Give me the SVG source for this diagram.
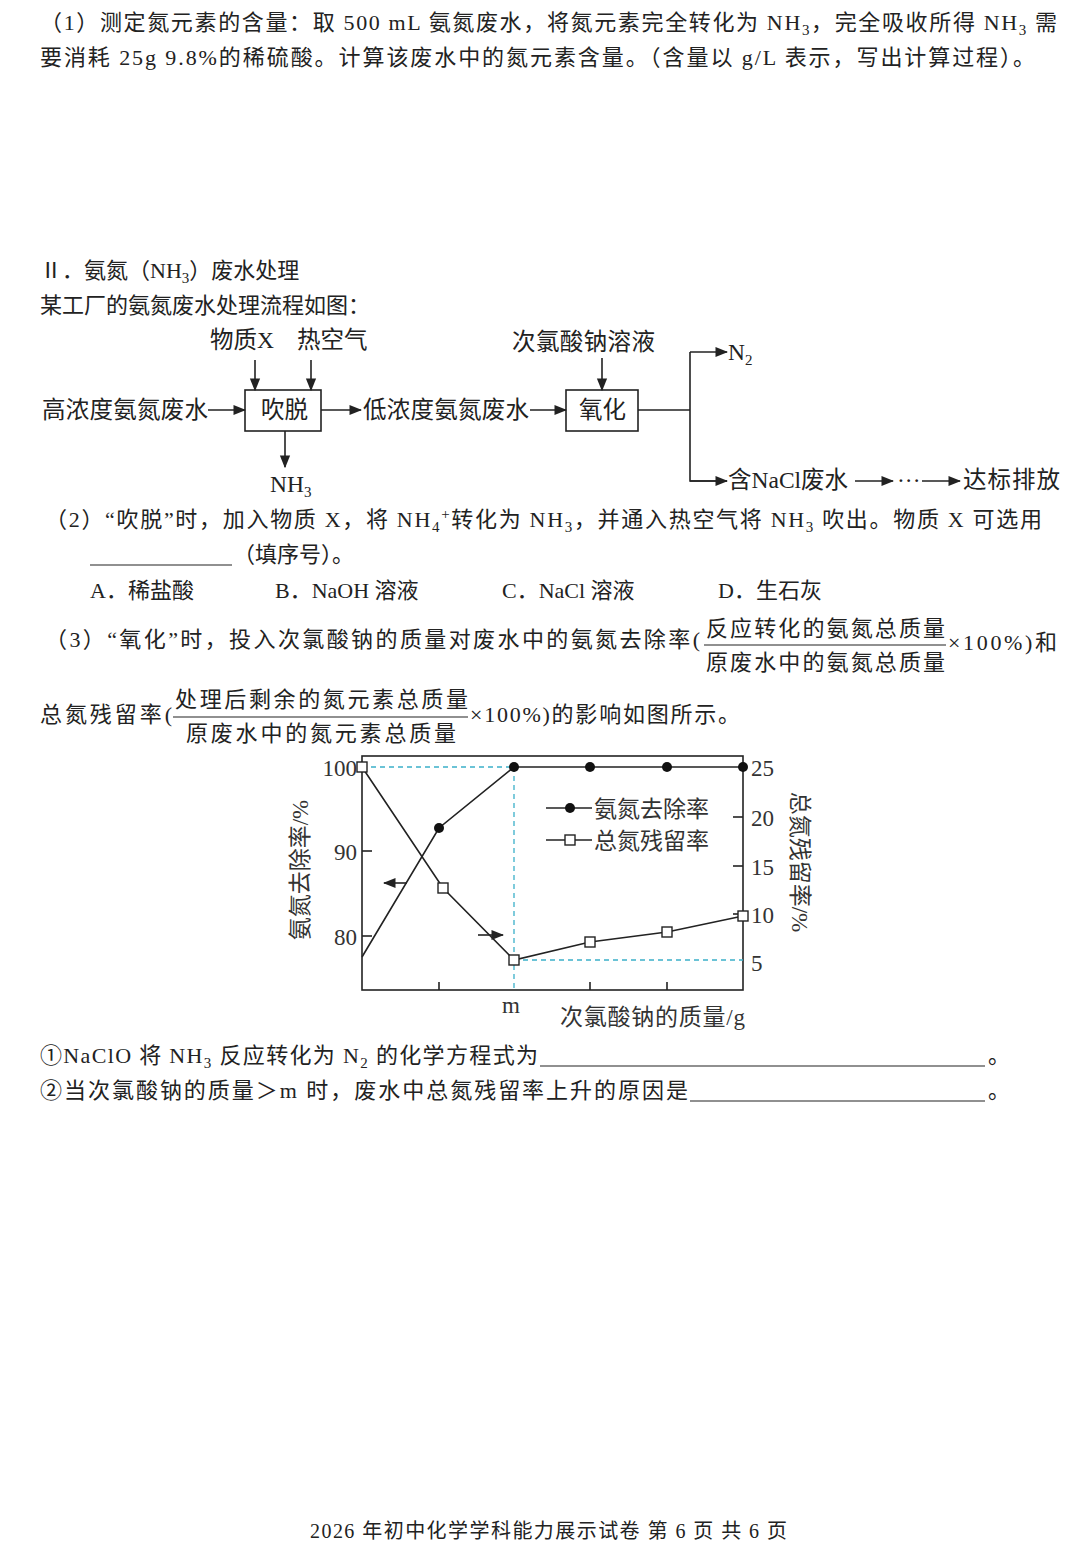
<svg xmlns="http://www.w3.org/2000/svg" width="1080" height="1544" viewBox="0 0 1080 1544">
<style>
text{font-family:"Liberation Serif","Noto Sans CJK SC",serif;font-size:22px;fill:#222}
.s{font-size:15px}
.fl{font-size:23.5px}
.ln{stroke:#222;stroke-width:1.6;fill:none}
.dash{stroke:#3bb0c9;stroke-width:1.3;stroke-dasharray:5 4;fill:none}
.ax{font-size:23px;fill:#333}
</style>
<defs>
<marker id="ah" viewBox="0 0 10 10" refX="9" refY="5" markerWidth="8" markerHeight="8" orient="auto"><path d="M0,1 L10,5 L0,9 z" fill="#222"/></marker>
</defs>
<rect width="1080" height="1544" fill="#fff"/>
<text x="40" y="30" textLength="1017" lengthAdjust="spacing">（1）测定氮元素的含量：取 500 mL 氨氮废水，将氮元素完全转化为 NH<tspan class="s" dy="5">3</tspan><tspan dy="-5">，完全吸收所得 NH</tspan><tspan class="s" dy="5">3</tspan><tspan dy="-5"> 需</tspan></text>
<text x="40" y="65" textLength="995" lengthAdjust="spacing">要消耗 25g 9.8%的稀硫酸。计算该废水中的氮元素含量。（含量以 g/L 表示，写出计算过程）。</text>
<text x="40" y="278">Ⅱ．氨氮（NH<tspan class="s" dy="5">3</tspan><tspan dy="-5">）废水处理</tspan></text>
<text x="40" y="313">某工厂的氨氮废水处理流程如图：</text>
<g id="flow-labels">
<text x="210" y="348" class="fl">物质X</text>
<text x="297" y="348" class="fl">热空气</text>
<text x="42" y="418" class="fl" textLength="166" lengthAdjust="spacing">高浓度氨氮废水</text>
<text x="363" y="418" class="fl" textLength="166" lengthAdjust="spacing">低浓度氨氮废水</text>
<text x="512" y="350" class="fl" textLength="143" lengthAdjust="spacing">次氯酸钠溶液</text>
<text x="728" y="360" class="fl">N<tspan class="s" dy="5">2</tspan></text>
<text x="728" y="488" class="fl">含NaCl废水</text>
<text x="897" y="488" class="fl">···</text>
<text x="963" y="488" class="fl" textLength="97" lengthAdjust="spacing">达标排放</text>
<text x="270" y="492" class="fl">NH<tspan class="s" dy="5">3</tspan></text>
</g>
<g id="node-chuituo"><rect x="245" y="390" width="76" height="41" class="ln"/><text x="261" y="418" class="fl">吹脱</text></g>
<g id="node-yanghua"><rect x="566" y="390" width="72" height="41" class="ln"/><text x="579" y="418" class="fl">氧化</text></g>
<g id="connectors" class="ln">
<line x1="255" y1="360" x2="255" y2="390" marker-end="url(#ah)"/>
<line x1="311" y1="360" x2="311" y2="390" marker-end="url(#ah)"/>
<line x1="208" y1="410" x2="245" y2="410" marker-end="url(#ah)"/>
<line x1="321" y1="410" x2="361" y2="410" marker-end="url(#ah)"/>
<line x1="530" y1="410" x2="566" y2="410" marker-end="url(#ah)"/>
<line x1="602" y1="358" x2="602" y2="390" marker-end="url(#ah)"/>
<line x1="285" y1="431" x2="285" y2="467" marker-end="url(#ah)"/>
<polyline points="638,410 690,410"/>
<polyline points="727,481 690,481 690,352" />
<line x1="690" y1="352" x2="727" y2="352" marker-end="url(#ah)"/>
<line x1="690" y1="481" x2="727" y2="481" marker-end="url(#ah)"/>
<line x1="855" y1="481" x2="893" y2="481" marker-end="url(#ah)"/>
<line x1="922" y1="481" x2="960" y2="481" marker-end="url(#ah)"/>
</g>
<text x="45" y="527" textLength="997" lengthAdjust="spacing">（2）“吹脱”时，加入物质 X，将 NH<tspan class="s" dy="5">4</tspan><tspan class="s" dy="-13">+</tspan><tspan dy="8">转化为 NH</tspan><tspan class="s" dy="5">3</tspan><tspan dy="-5">，并通入热空气将 NH</tspan><tspan class="s" dy="5">3</tspan><tspan dy="-5"> 吹出。物质 X 可选用</tspan></text>
<line x1="90" y1="565" x2="232" y2="565" stroke="#222" stroke-width="1.2"/>
<text x="233" y="562">（填序号）。</text>
<text x="90" y="598">A．稀盐酸</text>
<text x="275" y="598">B．NaOH 溶液</text>
<text x="502" y="598">C．NaCl 溶液</text>
<text x="718" y="598">D．生石灰</text>
<text x="45" y="647" textLength="655" lengthAdjust="spacing">（3）“氧化”时，投入次氯酸钠的质量对废水中的氨氮去除率(</text>
<text x="706" y="636" textLength="239" lengthAdjust="spacing">反应转化的氨氮总质量</text>
<line x1="704" y1="645" x2="946" y2="645" stroke="#222" stroke-width="1.2"/>
<text x="706" y="670" textLength="239" lengthAdjust="spacing">原废水中的氨氮总质量</text>
<text x="948" y="650" textLength="109" lengthAdjust="spacing">×100%)和</text>
<text x="40" y="722" textLength="132" lengthAdjust="spacing">总氮残留率(</text>
<text x="175" y="707" textLength="293" lengthAdjust="spacing">处理后剩余的氮元素总质量</text>
<line x1="173" y1="717" x2="468" y2="717" stroke="#222" stroke-width="1.2"/>
<text x="186" y="741" textLength="270" lengthAdjust="spacing">原废水中的氮元素总质量</text>
<text x="470" y="722" textLength="270" lengthAdjust="spacing">×100%)的影响如图所示。</text>
<g id="chart">
<rect x="362" y="756" width="381" height="234" class="ln"/>
<g class="ln">
<line x1="362" y1="851" x2="372" y2="851"/><line x1="362" y1="936" x2="372" y2="936"/>
<line x1="733" y1="817" x2="743" y2="817"/><line x1="733" y1="866" x2="743" y2="866"/><line x1="733" y1="914" x2="743" y2="914"/>
<line x1="439" y1="990" x2="439" y2="982"/><line x1="590" y1="990" x2="590" y2="982"/><line x1="667" y1="990" x2="667" y2="982"/>
</g>
<polyline class="dash" points="362,767 514,767"/>
<polyline class="dash" points="514,767 514,990"/>
<polyline class="dash" points="514,960 743,960"/>
<polyline class="ln" points="362,957 439,828 514,767 590,767 667,767 743,767"/>
<polyline class="ln" points="362,767 443,888 514,960 590,942 667,932 743,916"/>
<g fill="#111"><circle cx="439" cy="828" r="5"/><circle cx="514" cy="767" r="5"/><circle cx="590" cy="767" r="5"/><circle cx="667" cy="767" r="5"/><circle cx="743" cy="767" r="5"/></g>
<g fill="#fff" stroke="#222" stroke-width="1.4"><rect x="357" y="762" width="10" height="10"/><rect x="438" y="883" width="10" height="10"/><rect x="509" y="955" width="10" height="10"/><rect x="585" y="937" width="10" height="10"/><rect x="662" y="927" width="10" height="10"/><rect x="738" y="911" width="10" height="10"/></g>
<line x1="407" y1="883" x2="384" y2="883" class="ln" marker-end="url(#ah)"/>
<line x1="478" y1="935" x2="503" y2="935" class="ln" marker-end="url(#ah)"/>
<line x1="546" y1="808" x2="592" y2="808" class="ln"/><circle cx="570" cy="808" r="5" fill="#111"/>
<line x1="546" y1="840" x2="592" y2="840" class="ln"/><rect x="565" y="835" width="10" height="10" fill="#fff" stroke="#222" stroke-width="1.4"/>
<text x="594" y="817" class="ax">氨氮去除率</text>
<text x="594" y="849" class="ax">总氮残留率</text>
<text x="357" y="776" class="ax" text-anchor="end">100</text><text x="357" y="860" class="ax" text-anchor="end">90</text><text x="357" y="945" class="ax" text-anchor="end">80</text>
<text x="751" y="776" class="ax">25</text><text x="751" y="826" class="ax">20</text><text x="751" y="875" class="ax">15</text><text x="751" y="923" class="ax">10</text><text x="751" y="971" class="ax">5</text>
<text x="502" y="1013" class="ax">m</text>
<text x="560" y="1025" class="ax" textLength="185" lengthAdjust="spacing">次氯酸钠的质量/g</text>
<text transform="translate(308,870) rotate(-90)" text-anchor="middle" class="ax">氨氮去除率/%</text>
<text transform="translate(792,862) rotate(90)" text-anchor="middle" class="ax">总氮残留率/%</text>
</g>
<text x="40" y="1063" textLength="498" lengthAdjust="spacing">①NaClO 将 NH<tspan class="s" dy="5">3</tspan><tspan dy="-5"> 反应转化为 N</tspan><tspan class="s" dy="5">2</tspan><tspan dy="-5"> 的化学方程式为</tspan></text>
<line x1="540" y1="1066" x2="985" y2="1066" stroke="#222" stroke-width="1.2"/>
<text x="988" y="1063">。</text>
<text x="40" y="1098" textLength="648" lengthAdjust="spacing">②当次氯酸钠的质量＞m 时，废水中总氮残留率上升的原因是</text>
<line x1="690" y1="1101" x2="985" y2="1101" stroke="#222" stroke-width="1.2"/>
<text x="988" y="1098">。</text>
<text x="310" y="1538" style="font-size:20px" textLength="477" lengthAdjust="spacing">2026 年初中化学学科能力展示试卷 第 6 页 共 6 页</text>
</svg>
